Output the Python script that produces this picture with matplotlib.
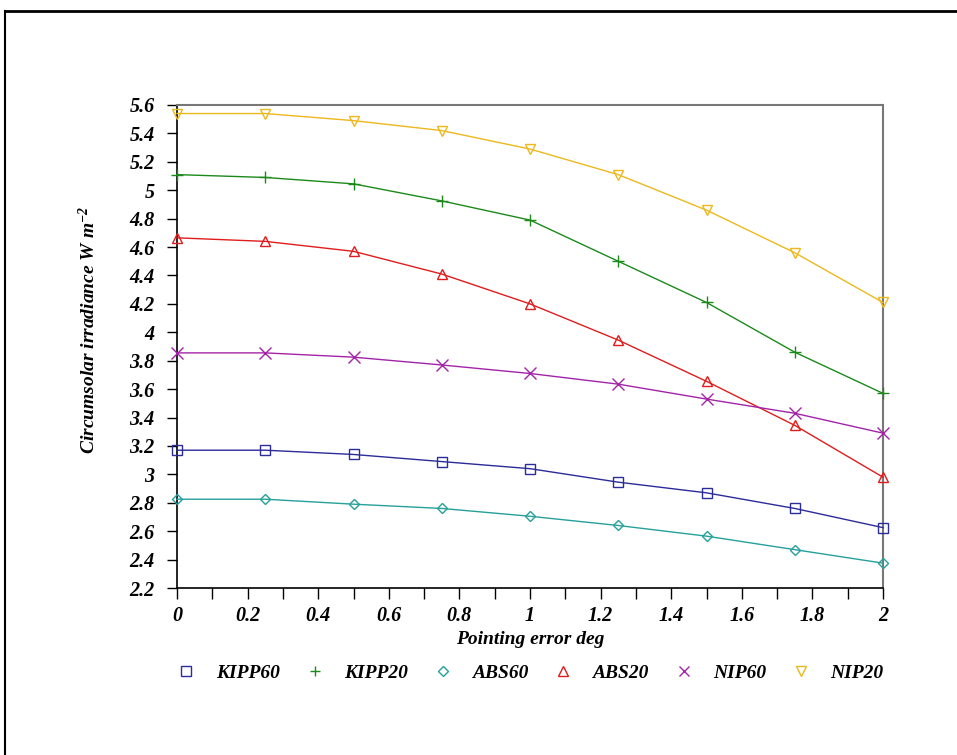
import matplotlib
matplotlib.use("Agg")
import matplotlib.pyplot as plt
from matplotlib.lines import Line2D
from matplotlib.ticker import MultipleLocator, FuncFormatter

plt.rcParams["mathtext.fontset"] = "custom"
plt.rcParams["mathtext.rm"] = "Liberation Serif:bold:italic"
plt.rcParams["mathtext.it"] = "Liberation Serif:bold:italic"
plt.rcParams["mathtext.bf"] = "Liberation Serif:bold:italic"

x = [0, 0.25, 0.5, 0.75, 1.0, 1.25, 1.5, 1.75, 2.0]
kipp60 = [3.17, 3.17, 3.14, 3.09, 3.04, 2.945, 2.87, 2.76, 2.625]
kipp20 = [5.11, 5.09, 5.045, 4.925, 4.79, 4.50, 4.21, 3.86, 3.57]
abs60 = [2.825, 2.825, 2.79, 2.76, 2.705, 2.64, 2.565, 2.47, 2.375]
abs20 = [4.665, 4.64, 4.57, 4.41, 4.20, 3.945, 3.655, 3.345, 2.98]
nip60 = [3.855, 3.855, 3.825, 3.77, 3.71, 3.635, 3.53, 3.43, 3.29]
nip20 = [5.54, 5.54, 5.49, 5.42, 5.29, 5.11, 4.86, 4.56, 4.21]

series = [
    ("KIPP60", kipp60, "#2b2b9a", "s"),
    ("KIPP20", kipp20, "#1b8a1b", "+"),
    ("ABS60", abs60, "#25a09c", "D"),
    ("ABS20", abs20, "#e01c1c", "^"),
    ("NIP60", nip60, "#a323a8", "x"),
    ("NIP20", nip20, "#ecb81c", "v"),
]

font = dict(family="Liberation Serif", weight="bold", style="italic")

fig = plt.figure(figsize=(9.57, 7.55), dpi=100)
ax = fig.add_axes([177/957, 1-588/755, (883-177)/957, (588-105)/755])

for name, vals, col, m in series:
    ms = 7
    if m == "D":
        ms = 5
    if m in ("+", "x"):
        ms = 8
    ax.plot(x, vals, color=col, lw=1.0, marker=m, ms=ms, mfc="none",
            mec=col, mew=1.0, label=name, clip_on=False, zorder=3)

ax.set_xlim(0, 2)
ax.set_ylim(2.2, 5.6)
ax.xaxis.set_major_locator(MultipleLocator(0.1))
ax.xaxis.set_major_formatter(FuncFormatter(
    lambda v, p: ("%g" % round(v, 1)) if abs(round(v / 0.2) * 0.2 - v) < 1e-6 else ""))
ax.yaxis.set_major_locator(MultipleLocator(0.2))
ax.yaxis.set_major_formatter(FuncFormatter(lambda v, p: "%g" % round(v, 1)))

ax.tick_params(axis="x", direction="out", length=8, width=1, pad=5)
ax.tick_params(axis="y", direction="out", length=7, width=1, pad=9)
for lab in ax.get_xticklabels() + ax.get_yticklabels():
    lab.set_fontfamily("Liberation Serif")
    lab.set_fontweight("bold")
    lab.set_fontstyle("italic")
    lab.set_fontsize(14.5)

for s in ("left", "bottom"):
    ax.spines[s].set_color("black")
    ax.spines[s].set_linewidth(1.2)
for s in ("top", "right"):
    ax.spines[s].set_color("#777777")
    ax.spines[s].set_linewidth(1.5)

ax.set_xlabel("Pointing error deg", fontsize=14, **font)
ax.xaxis.set_label_coords(0.5, -(631 - 588) / (588 - 105), transform=ax.transAxes)
ax.set_ylabel(r"Circumsolar irradiance W m$^{-2}$", fontsize=14, **font)
ax.yaxis.set_label_coords(-(177 - 88) / (883 - 177), (588 - 330) / (588 - 105),
                          transform=ax.transAxes)
ax.yaxis.label.set_verticalalignment("center")

handles = [Line2D([], [], ls="none", marker=m, color=c, mfc="none", mec=c,
                  ms=(5 if m == "D" else 7), mew=1.0) for _, _, c, m in series]
leg = fig.legend(handles, [s[0] for s in series], loc="center",
                 bbox_to_anchor=(530/957, 1-673/755), ncol=6, frameon=False,
                 handlelength=1.0, handletextpad=1.0, columnspacing=1.3,
                 prop=dict(family="Liberation Serif", weight="bold", style="italic", size=14))

fig.add_artist(Line2D([5/957, 1.0], [1-11/755, 1-11/755], color="black", lw=2,
                      transform=fig.transFigure))
fig.add_artist(Line2D([5/957, 5/957], [0, 1-11/755], color="black", lw=1.5,
                      transform=fig.transFigure))

fig.savefig("out.png", dpi=100)
